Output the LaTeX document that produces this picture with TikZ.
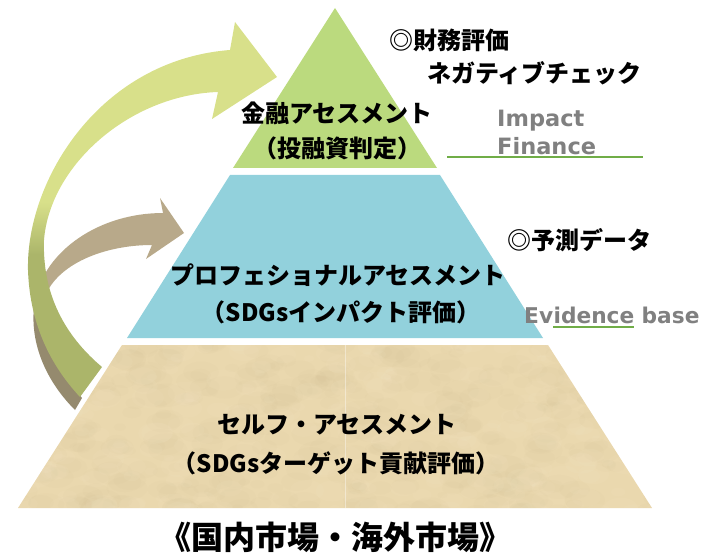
\documentclass[tikz,border=0pt]{standalone}
\usepackage{fontspec}
\newfontfamily\jpfont{Noto Sans CJK JP}
\newfontfamily\latfont{DejaVu Sans}
\definecolor{tierTop}{HTML}{BBDA7E}
\definecolor{tierMid}{HTML}{92D1DC}
\definecolor{tierBase}{HTML}{EAD8AE}
\definecolor{parchDark}{HTML}{C8B184}
\definecolor{parchLight}{HTML}{F6EACB}
\definecolor{gLight}{HTML}{D8E08A}
\definecolor{gOlive}{HTML}{ABB56A}
\definecolor{tanLight}{HTML}{B8A98A}
\definecolor{tanDark}{HTML}{958A6E}
\definecolor{labelGray}{HTML}{808080}
\definecolor{ruleGreen}{HTML}{70AD47}
\pgfdeclareverticalshading{greenband}{100bp}{color(0bp)=(gOlive); color(44bp)=(gOlive); color(51bp)=(gLight); color(100bp)=(gLight)}
\pgfdeclareverticalshading{tanband}{100bp}{color(0bp)=(tanDark); color(47bp)=(tanDark); color(53bp)=(tanLight); color(100bp)=(tanLight)}
\tikzset{
  jt/.style={font=\jpfont\bfseries\fontsize{24}{28}\selectfont, inner sep=0pt, text=black},
  lt/.style={font=\latfont\bfseries\fontsize{22.5}{26}\selectfont, inner sep=0pt, text=labelGray},
  rule/.style={draw=ruleGreen, line width=1.5pt}
}
\begin{document}
\begin{tikzpicture}[x=1pt, y=-1pt]
\useasboundingbox (0,0) rectangle (709,556);

% pyramid tiers
\fill[tierTop] (335,8) -- (437,168) -- (233,168) -- cycle;
\fill[tierMid] (230,175) -- (440,175) -- (543,338) -- (127,338) -- cycle;
\fill[tierBase] (122,345) -- (548,345) -- (652,508) -- (18,508) -- cycle;

% parchment texture of the base tier
\begin{scope}
  \clip (122,345) -- (548,345) -- (652,508) -- (18,508) -- cycle;
  \pgfmathsetseed{12}
  \foreach \k in {1,...,420}{
    \pgfmathsetmacro{\px}{10+rnd*650}
    \pgfmathsetmacro{\py}{340+rnd*175}
    \pgfmathsetmacro{\pr}{3+rnd*9}
    \fill[parchDark, opacity=0.045] (\px,\py) ellipse [x radius=1.7*\pr, y radius=\pr];
  }
  \foreach \k in {1,...,300}{
    \pgfmathsetmacro{\px}{10+rnd*650}
    \pgfmathsetmacro{\py}{340+rnd*175}
    \pgfmathsetmacro{\pr}{3+rnd*8}
    \fill[parchLight, opacity=0.09] (\px,\py) ellipse [x radius=1.6*\pr, y radius=\pr];
  }
  \draw[white, opacity=0.4, line width=0.8pt] (345,345) -- (345,508);
\end{scope}

% tan curved arrow (behind)
\path[shading=tanband]
  (75,410) .. controls (45,380) and (28,340) .. (35,300)
  .. controls (45,250) and (100,213) .. (163,213)
  -- (160,198) -- (184,233) -- (146,259) -- (152,245)
  .. controls (110,245) and (65,260) .. (48,290)
  .. controls (45,330) and (60,370) .. (82,398) -- cycle;

% green curved arrow (front)
\path[shading=greenband]
  (80,397) .. controls (55,370) and (30,330) .. (28,270)
  .. controls (26,180) and (100,60) .. (230,50)
  -- (235,22) -- (277,77) -- (212,119) -- (218,92)
  .. controls (130,95) and (50,165) .. (44,240)
  .. controls (42,300) and (70,340) .. (102,367) -- cycle;

% labels inside the tiers
\node[jt] (topA) at (337,113) {金融アセスメント};
\node[jt] (topB) at (337,148) {（投融資判定）};
\node[jt] (midA) at (338,275) {プロフェショナルアセスメント};
\node[jt] (midB) at (341,312) {（SDGsインパクト評価）};
\node[jt] (baseA) at (337,425) {セルフ・アセスメント};
\node[jt] (baseB) at (336,463) {（SDGsターゲット貢献評価）};

% side notes
\node[jt, anchor=west] (finA) at (389,40) {◎財務評価};
\node[jt, anchor=west] (finB) at (427,73) {ネガティブチェック};
\node[lt, anchor=west] (impA) at (497,121) {Impact};
\node[lt, anchor=west] (impB) at (497,146) {Finance};
\coordinate (ruleAl) at (447,157);
\coordinate (ruleAr) at (643,157);
\draw[rule] (ruleAl) -- (ruleAr);

\node[jt, anchor=west] (pred) at (507,240) {◎予測データ};
\node[lt, font=\latfont\bfseries\fontsize{21.7}{26}\selectfont, anchor=base west] (evA) at (524,323) {Ev};
\node[lt, font=\latfont\bfseries\fontsize{21.7}{26}\selectfont, anchor=base west] (evB) at (evA.base east) {idence};
\node[lt, font=\latfont\bfseries\fontsize{21.7}{26}\selectfont, anchor=base west, xshift=7pt] (evC) at (evB.base east) {base};
\coordinate (ruleBl) at ([yshift=-4pt]evB.base west);
\coordinate (ruleBr) at ([yshift=-4pt]evB.base east);
\draw[rule, line width=2pt] (ruleBl) -- (ruleBr);

% market caption
\node[jt, font=\jpfont\bfseries\fontsize{32}{36}\selectfont] (market) at (335,537) {《国内市場・海外市場》};
\end{tikzpicture}
\end{document}
